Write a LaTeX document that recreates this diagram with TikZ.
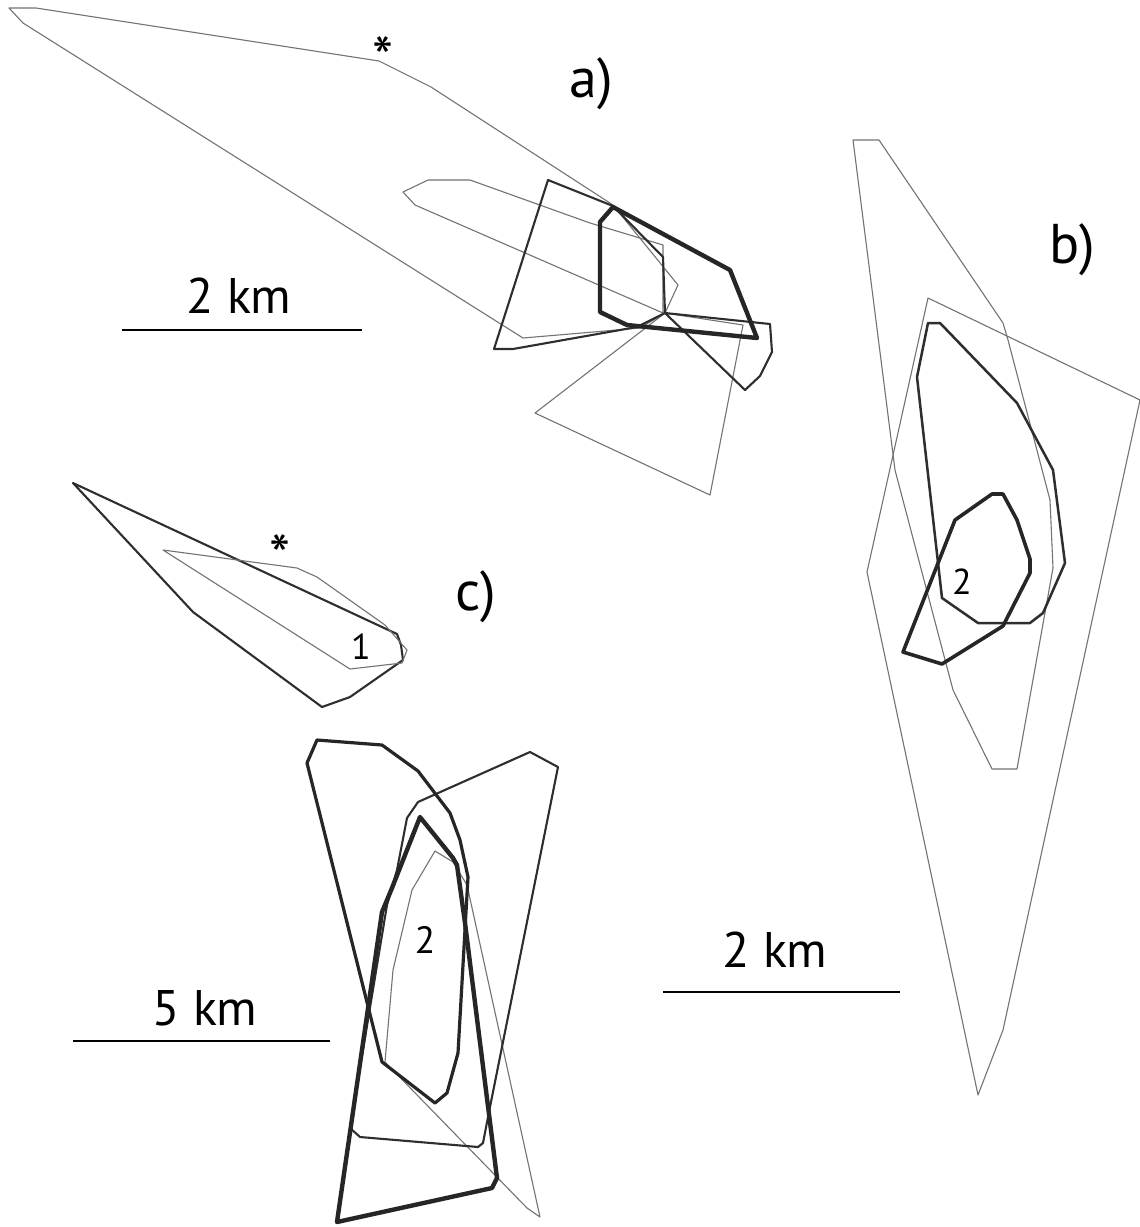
\documentclass[tikz,border=0pt]{standalone}
\usepackage{fontspec}
\setmainfont{PT Sans}
\begin{document}
\begin{tikzpicture}[x=0.5pt,y=-0.5pt,line join=round,line cap=round,
  thinl/.style={draw=black!55,line width=0.55pt},
  medl/.style={draw=black!82,line width=1.05pt},
  heavyl/.style={draw=black!85,line width=1.6pt},
  heaviestl/.style={draw=black!85,line width=2.2pt},
  barl/.style={draw=black,line width=1.1pt,line cap=butt},
  panel/.style={inner sep=0pt,font=\fontsize{28}{30}\selectfont},
  kmtxt/.style={inner sep=0pt,font=\fontsize{25}{28}\selectfont},
  num/.style={inner sep=0pt,font=\fontsize{18}{20}\selectfont},
  ast/.style={inner sep=0pt,anchor=base,font=\fontsize{30}{32}\selectfont}]
\useasboundingbox (0,0) rectangle (1140,1227);
\fill[white] (0,0) rectangle (1140,1227);

% ---------- panel a) ----------
\draw[thinl] (9,8) -- (36,8) -- (379,61) -- (431,87) -- (613,205) -- (678,285) -- (665,313) -- (640,328) -- (523,338) -- (23,23) -- cycle;
\draw[thinl] (403,192) -- (428,180) -- (470,180) -- (590,223) -- (663,245) -- (663,313) -- (415,205) -- cycle;
\draw[thinl] (665,313) -- (743,325) -- (710,495) -- (535,413) -- cycle;
\draw[medl] (548,180) -- (613,206) -- (663,257) -- (665,313) -- (637,327) -- (513,349) -- (494,349) -- cycle;
\draw[medl] (665,313) -- (770,324) -- (772,352) -- (760,376) -- (745,390) -- cycle;
\draw[heaviestl] (613,207) -- (730,270) -- (757,338) -- (627,325) -- (600,312) -- (600,222) -- cycle;
\node[ast] (asta) at (383,79) {*};
\node[panel] (la) at (591,84) {a)};
\draw[barl] (122,330) -- (362,330);
\node[kmtxt] (kma) at (239,296) {2 km};

% ---------- panel b) ----------
\draw[thinl] (853,140) -- (879,140) -- (1003,323) -- (1008,340) -- (1050,500) -- (1053,568) -- (1017,769) -- (992,769) -- (953,690) -- (895,470) -- cycle;
\draw[thinl] (928,298) -- (1140,400) -- (1003,1030) -- (978,1095) -- (867,572) -- cycle;
\draw[medl,line width=1.25pt] (928,323) -- (940,323) -- (1017,403) -- (1053,470) -- (1065,563) -- (1043,613) -- (1030,623) -- (978,623) -- (942,598) -- (917,377) -- cycle;
\draw[heavyl,line width=1.8pt] (955,520) -- (992,494) -- (1003,494) -- (1017,520) -- (1030,559) -- (1030,573) -- (1003,626) -- (942,664) -- (903,652) -- cycle;
\node[num] (nb) at (962,582) {2};
\node[panel] (lb) at (1072,250) {b)};
\draw[barl] (663,992) -- (900,992);
\node[kmtxt] (kmb) at (775,950) {2 km};

% ---------- panel c) (upper) ----------
\draw[medl] (73,483) -- (397,634) -- (401,645) -- (403,660) -- (350,697) -- (322,707) -- (193,612) -- cycle;
\draw[thinl] (163,550) -- (297,568) -- (317,577) -- (385,625) -- (407,650) -- (402,663) -- (350,669) -- cycle;
\node[ast] (astc) at (280,577) {*};
\node[num] (nc) at (361,647) {1};
\node[panel] (lc) at (476,597) {c)};

% ---------- lower cluster ----------
\draw[thinl] (435,851) -- (453,862) -- (467,885) -- (540,1217) -- (527,1208) -- (385,1062) -- (393,970) -- (412,890) -- cycle;
\draw[medl] (530,752) -- (558,767) -- (488,1117) -- (483,1143) -- (478,1147) -- (360,1137) -- (350,1128) -- (387,905) -- (397,870) -- (407,818) -- (418,802) -- cycle;
\draw[heavyl] (317,740) -- (382,745) -- (418,771) -- (450,813) -- (460,840) -- (468,877) -- (463,965) -- (458,1053) -- (447,1093) -- (435,1103) -- (382,1062) -- (307,763) -- cycle;
\draw[heaviestl] (420,817) -- (453,858) -- (457,865) -- (465,923) -- (497,1178) -- (492,1188) -- (337,1222) -- (382,912) -- (392,888) -- cycle;
\node[num,font=\fontsize{19}{21}\selectfont] (nl) at (425,940) {2};
\draw[barl] (73,1041) -- (330,1041);
\node[kmtxt] (kml) at (205,1008) {5 km};
\end{tikzpicture}
\end{document}
